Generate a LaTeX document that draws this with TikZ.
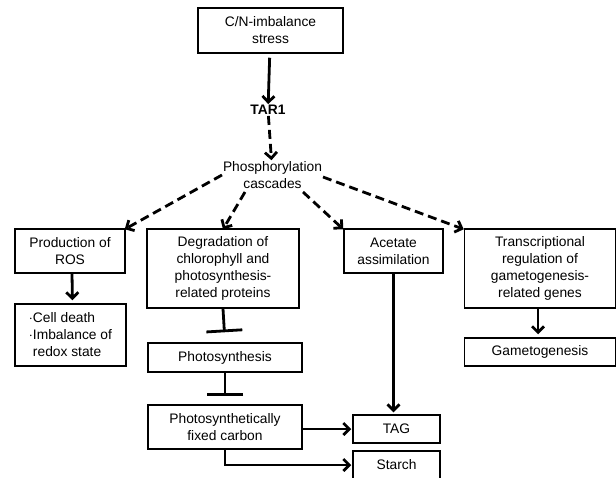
\documentclass[tikz,border=0pt]{standalone}
\usepackage{fontspec}
\setmainfont{Liberation Sans}
\usetikzlibrary{arrows.meta}
\begin{document}
\begin{tikzpicture}[x=1pt,y=-1pt,
  box/.style={draw,line width=1.5pt,align=center,inner sep=0pt,
    font=\fontsize{13.8}{17}\selectfont},
  plain/.style={align=center,inner sep=1pt,font=\fontsize{13.8}{17}\selectfont},
  arr/.style={line width=2.8pt,-{Straight Barb[length=6pt,width=12pt]}},
  darr/.style={arr,dash pattern=on 9pt off 5pt},
  inh/.style={line width=2.8pt,-{Bar[width=36pt]}}]
\useasboundingbox (0,0) rectangle (616,477);
\clip (0,0) rectangle (616,477);
\node[box,minimum width=145pt,minimum height=45pt] (cn) at (270.5,30.5) {C/N-imbalance\\stress};
\node[plain,font=\fontsize{13.8}{17}\selectfont\bfseries] (tar) at (268,110) {TAR1};
\node[plain] (phos) at (272.5,175) {Phosphorylation\\cascades};
\node[box,minimum width=110pt,minimum height=44pt] (ros) at (70,251) {Production of\\ROS};
\node[box,minimum width=152pt,minimum height=79pt] (deg) at (223,268.5) {Degradation of\\chlorophyll and\\photosynthesis-\\related proteins};
\node[box,minimum width=99pt,minimum height=44pt] (ace) at (393.5,251) {Acetate\\assimilation};
\node[box,minimum width=151pt,minimum height=79pt] (tra) at (540,268.5) {Transcriptional\\regulation of\\gametogenesis-\\related genes};
\node[box,minimum width=111pt,minimum height=62pt,align=left] (cell) at (70.5,335) {$\cdot$Cell death\\$\cdot$Imbalance of\\\phantom{$\cdot$}redox state};
\node[box,minimum width=151pt,minimum height=28pt] (gam) at (540,352) {Gametogenesis};
\node[box,minimum width=154pt,minimum height=29pt] (pho) at (225,357.5) {Photosynthesis};
\node[box,minimum width=154pt,minimum height=44pt] (fix) at (225,427) {Photosynthetically\\fixed carbon};
\node[box,minimum width=87pt,minimum height=28pt] (tag) at (396.5,429) {TAG};
\node[box,minimum width=87pt,minimum height=28pt] (starch) at (396.5,465) {Starch};
\coordinate (s1) at (222,175);
\coordinate (s2) at (245,192);
\coordinate (s3) at (303,192);
\coordinate (s4) at (323,177);
\draw[arr,shorten <=4pt] (cn) -- (tar);
\draw[darr] (tar) -- (phos);
\draw[darr] (s1) -- ([xshift=-1pt,yshift=-1pt]ros.north east);
\draw[darr] (s2) -- ([yshift=-1pt]deg.north);
\draw[darr] (s3) -- ([yshift=-1pt]ace.north west);
\draw[darr] (s4) -- ([yshift=-1pt]tra.north west);
\draw[arr,shorten >=3pt] ([xshift=2pt]ros.south) -- ([xshift=2pt]cell.north);
\draw[arr,shorten >=3pt] ([xshift=-2pt]tra.south) -- ([xshift=-2pt]gam.north);
\draw[inh,shorten >=10pt] (deg.south) -- (pho.north);
\draw[inh,shorten >=8pt] (pho.south) -- (fix.north);
\draw[arr,shorten >=2pt] (ace.south) -- (ace.south |- tag.north);
\draw[arr,shorten >=1pt] (fix.east |- tag.west) -- (tag.west);
\draw[arr,shorten >=1pt] (fix.south) |- (starch.west);
\end{tikzpicture}
\end{document}
